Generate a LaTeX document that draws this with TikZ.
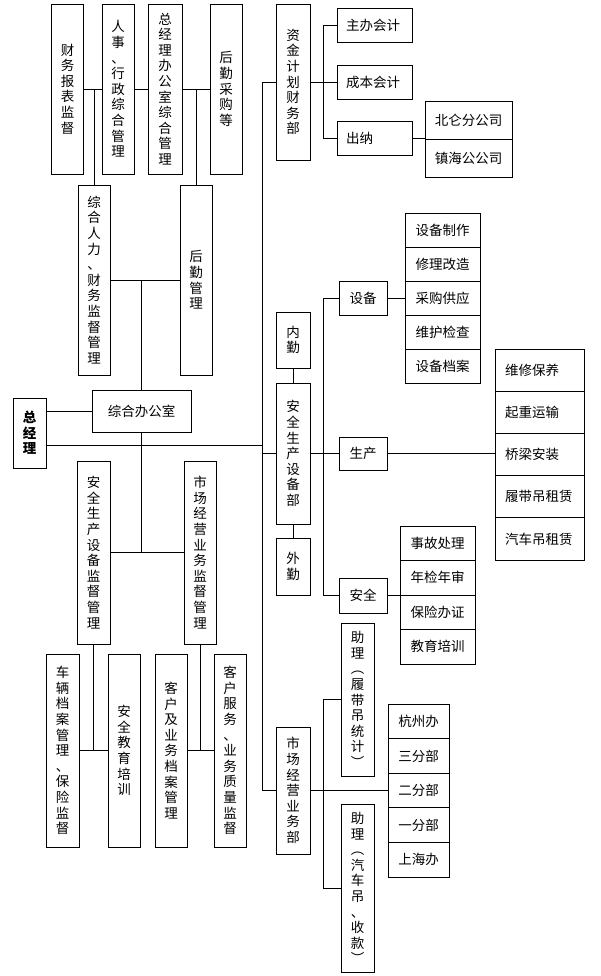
\documentclass[tikz,border=0pt]{standalone}
\usepackage{fontspec}
\setmainfont{Noto Sans CJK SC}
\usetikzlibrary{positioning}

\begin{document}
\begin{tikzpicture}[x=1pt, y=-1pt, line width=0.8pt,
font=\fontsize{13.5pt}{15.6pt}\selectfont,
vbox/.style={draw, inner sep=0pt, outer sep=0pt, minimum width=32pt, align=center},
hbox/.style={draw, inner sep=0pt, outer sep=0pt, minimum height=34pt, align=center},
lbox/.style={hbox, text width=#1, align=left}]
\useasboundingbox (0,0) rectangle (600,976);

% left: office branch
\node[vbox, minimum height=170pt] (fbjd) at (67.5,89) {财\\务\\报\\表\\监\\督};
\node[vbox, minimum height=170pt] (rsxz) at (118,89) {人\\事\\、\\行\\政\\综\\合\\管\\理};
\node[vbox, minimum width=34pt, minimum height=170pt] (zjbgs) at (165,89)
    {总\\经\\理\\办\\公\\室\\综\\合\\管\\理};
\node[vbox, minimum height=170pt] (hqcg) at (226,89) {后\\勤\\采\\购\\等};
\node[vbox, minimum height=190pt] (zhrl) at (94,280) {综\\合\\人\\力\\、\\财\\务\\监\\督\\管\\理};
\node[vbox, minimum height=190pt] (hqgl) at (196,280) {后\\勤\\管\\理};
\node[hbox, minimum width=99pt, minimum height=42pt] (zhbgs) at (141.5,411) {综合办公室};
\node[vbox, minimum width=33pt, minimum height=70pt, font=\fontsize{13.5pt}{15.6pt}\selectfont\bfseries]
    (zjl) at (29.5,433) {总\\经\\理};

% left: supervision branch
\node[vbox, minimum width=33pt, minimum height=183pt] (aqjd) at (93.5,552.5)
    {安\\全\\生\\产\\设\\备\\监\\督\\管\\理};
\node[vbox, minimum height=183pt] (scjd) at (200,552.5) {市\\场\\经\\营\\业\\务\\监\\督\\管\\理};
\node[vbox, minimum width=33pt, minimum height=193pt] (clda) at (62.5,750.5)
    {车\\辆\\档\\案\\管\\理\\、\\保\\险\\监\\督};
\node[vbox, minimum height=193pt] (aqpx) at (124,750.5) {安\\全\\教\\育\\培\\训};
\node[vbox, minimum height=193pt] (khda) at (171,750.5) {客\\户\\及\\业\\务\\档\\案\\管\\理};
\node[vbox, minimum height=193pt] (khfw) at (230,750.5) {客\\户\\服\\务\\、\\业\\务\\质\\量\\监\\督};

% right: finance
\node[vbox, minimum width=34pt, minimum height=156pt] (zjcw) at (293,82) {资\\金\\计\\划\\财\\务\\部};
\node[lbox=57pt, minimum width=75pt] (zbkj) at (374.5,25) {主办会计};
\node[lbox=57pt, minimum width=75pt] (cbkj) at (374.5,82) {成本会计};
\node[lbox=57pt, minimum width=75pt] (cn) at (374.5,138) {出纳};
\node[hbox, minimum width=87pt, minimum height=38pt] (bl) at (468.5,120) {北仑分公司};
\node[hbox, minimum width=87pt, minimum height=38pt, below=0pt of bl] (zh) {镇海公公司};

% right: production
\node[vbox, minimum width=34pt, minimum height=56pt] (nq) at (293,340) {内\\勤};
\node[vbox, minimum width=34pt, minimum height=141pt] (aqsb) at (293,453.5) {安\\全\\生\\产\\设\\备\\部};
\node[vbox, minimum width=34pt, minimum height=57pt] (wq) at (293,566.5) {外\\勤};
\node[hbox, minimum width=48pt] (sb) at (363,298) {设备};
\node[hbox, minimum width=48pt, minimum height=33pt] (sc) at (363,453.5) {生产};
\node[hbox, minimum width=48pt, minimum height=35pt] (aq) at (363,595.5) {安全};

\node[hbox, minimum width=75pt] (sb1) at (442.5,230) {设备制作};
\node[hbox, minimum width=75pt, below=0pt of sb1] (sb2) {修理改造};
\node[hbox, minimum width=75pt, below=0pt of sb2] (sb3) {采购供应};
\node[hbox, minimum width=75pt, below=0pt of sb3] (sb4) {维护检查};
\node[hbox, minimum width=75pt, below=0pt of sb4] (sb5) {设备档案};

\node[lbox=69pt, minimum width=89pt, minimum height=42.2pt] (sc1) at (539.5,370.1) {维修保养};
\node[lbox=69pt, minimum width=89pt, minimum height=42.2pt, below=0pt of sc1] (sc2) {起重运输};
\node[lbox=69pt, minimum width=89pt, minimum height=42.2pt, below=0pt of sc2] (sc3) {桥梁安装};
\node[lbox=69pt, minimum width=89pt, minimum height=42.2pt, below=0pt of sc3] (sc4) {履带吊租赁};
\node[lbox=69pt, minimum width=89pt, minimum height=42.2pt, below=0pt of sc4] (sc5) {汽车吊租赁};

\node[hbox, minimum width=75pt, minimum height=34.5pt] (aq1) at (437.5,543.25) {事故处理};
\node[hbox, minimum width=75pt, minimum height=34.5pt, below=0pt of aq1] (aq2) {年检年审};
\node[hbox, minimum width=75pt, minimum height=34.5pt, below=0pt of aq2] (aq3) {保险办证};
\node[hbox, minimum width=75pt, minimum height=34.5pt, below=0pt of aq3] (aq4) {教育培训};

% right: market
\node[vbox, minimum width=34pt, minimum height=127pt] (scyw) at (293,790.5) {市\\场\\经\\营\\业\\务\\部};
\node[vbox, minimum width=33pt, minimum height=153pt] (zl1) at (357.5,699.5)
    {助\\理\\︵\\履\\带\\吊\\统\\计\\︶};
\node[vbox, minimum width=33pt, minimum height=168pt] (zl2) at (357.5,888)
    {助\\理\\︵\\汽\\车\\吊\\、\\收\\款\\︶};
\node[hbox, minimum width=61pt, minimum height=34.6pt] (of1) at (418.5,721.3) {杭州办};
\node[hbox, minimum width=61pt, minimum height=34.6pt, below=0pt of of1] (of2) {三分部};
\node[hbox, minimum width=61pt, minimum height=34.6pt, below=0pt of of2] (of3) {二分部};
\node[hbox, minimum width=61pt, minimum height=34.6pt, below=0pt of of3] (of4) {一分部};
\node[hbox, minimum width=61pt, minimum height=34.6pt, below=0pt of of4] (of5) {上海办};

\coordinate (tr) at (262,0);
\coordinate (hub) at (262,445);
\coordinate (fb) at (323,0);

% left connectors
\draw (fbjd.east) -- (rsxz.west);
\draw (rsxz.east) -- (zjbgs.west);
\draw (zjbgs.east) -- (hqcg.west);
\draw (zhrl.north) -- (zhrl.north |- fbjd.east);
\draw (hqgl.north) -- (hqgl.north |- hqcg.west);
\draw (zhrl.east) -- (hqgl.west);
\draw (zhbgs.north) -- (zhbgs.north |- zhrl.east);
\draw (zhbgs.west) -- (zhbgs.west -| zjl.east);
\draw (hub) -- (hub -| zjl.east);
\draw (zhbgs.south) -- (zhbgs.south |- aqjd.east);
\draw (aqjd.east) -- (scjd.west);
\draw (clda.east) -- (aqpx.west);
\draw (aqjd.south) -- (aqjd.south |- clda.east);
\draw (khda.east) -- (khfw.west);
\draw (scjd.south) -- (scjd.south |- khda.east);

% trunk
\draw (zjcw.west) -| (tr |- scyw.west) -- (scyw.west);
\draw (aqsb.west) -- (aqsb.west -| tr);

% finance
\draw (zjcw.east) -- (cbkj.west);
\draw (zbkj.west) -- (zbkj.west -| fb) -- (cn.west -| fb) -- (cn.west);
\draw (cn.east) -- (cn.east -| bl.west);

% production
\draw (nq) -- (aqsb);
\draw (aqsb) -- (wq);
\draw (aqsb.east) -- (sc.west);
\draw (sb.west) -- (sb.west -| fb) -- (aq.west -| fb) -- (aq.west);
\draw (sb.east) -- (sb3.west);
\draw (sc.east) -- (sc.east -| sc3.west);
\draw (aq.east) -- (aq.east -| aq2.west);

% market
\draw (scyw.east) -- (scyw.east -| of3.west);
\draw (zl1.west) -- (zl1.west -| fb) -- (zl2.west -| fb) -- (zl2.west);
\end{tikzpicture}
\end{document}
